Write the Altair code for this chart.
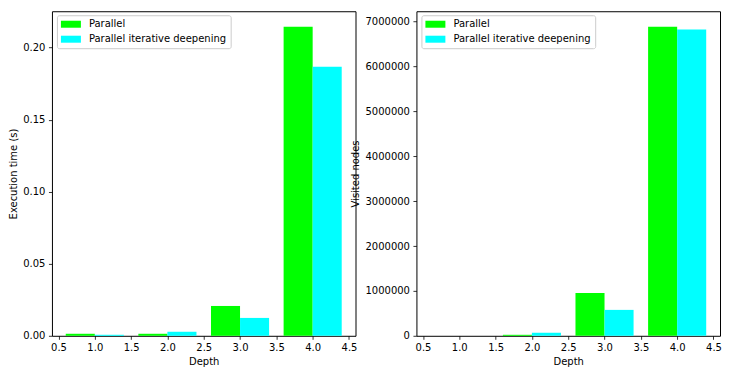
import altair as alt
import pandas as pd

depths = [1, 2, 3, 4]
series_names = ["Parallel", "Parallel iterative deepening"]
series_colors = ["#00ff00", "#00ffff"]
time_parallel = [0.0014, 0.0014, 0.0207, 0.2145]
time_iterative = [0.0007, 0.0028, 0.0124, 0.1867]
nodes_parallel = [500, 22000, 955000, 6885000]
nodes_iterative = [300, 68000, 577000, 6825000]
x_ticks = [0.5, 1.0, 1.5, 2.0, 2.5, 3.0, 3.5, 4.0, 4.5]
time_ticks = [0.0, 0.05, 0.10, 0.15, 0.20]
node_ticks = [0, 1000000, 2000000, 3000000, 4000000, 5000000, 6000000, 7000000]

bar_width = 0.4


def frame(a, b):
    rows = []
    for d, v in zip(depths, a):
        rows.append({"depth": d, "series": series_names[0], "value": v,
                     "x0": d - bar_width, "x1": d})
    for d, v in zip(depths, b):
        rows.append({"depth": d, "series": series_names[1], "value": v,
                     "x0": d, "x1": d + bar_width})
    return pd.DataFrame(rows)


lo = depths[0] - bar_width
hi = depths[-1] + bar_width
margin = (hi - lo) * 0.05
xscale = alt.Scale(domain=[lo - margin, hi + margin], nice=False, zero=False)

legend = alt.Legend(
    title=None, orient="none", legendX=5, legendY=4,
    symbolType="M-1,-0.7L3,-0.7L3,0.7L-1,0.7Z", symbolSize=100,
    symbolStrokeWidth=0, labelOffset=18, padding=4, rowPadding=5,
    strokeColor="#cccccc", fillColor="white", cornerRadius=2,
    labelFontSize=10, labelColor="black", labelFont="DejaVu Sans",
    symbolOpacity=1,
)


def panel(df, ytitle, ticks, fmt):
    ymax = df["value"].max() * 1.05
    return alt.Chart(df).mark_rect(opacity=1).encode(
        x=alt.X("x0:Q", scale=xscale,
                axis=alt.Axis(title="Depth", values=x_ticks, format=".1f")),
        x2="x1:Q",
        y=alt.Y("value:Q", scale=alt.Scale(domain=[0, ymax], nice=False),
                axis=alt.Axis(title=ytitle, values=ticks, format=fmt)),
        y2=alt.datum(0),
        color=alt.Color("series:N",
                        scale=alt.Scale(domain=series_names, range=series_colors),
                        legend=legend),
    ).properties(width=304, height=325)


left = panel(frame(time_parallel, time_iterative), "Execution time (s)", time_ticks, ".2f")
right = panel(frame(nodes_parallel, nodes_iterative), "Visited nodes", node_ticks, "d")

chart = alt.hconcat(left, right, spacing=61, bounds="flush").resolve_legend(
    color="independent"
).properties(
    padding={"left": 0, "top": 2, "right": 0, "bottom": 0}
).configure_view(
    stroke="black", strokeWidth=1
).configure_axis(
    grid=False, domain=False, tickColor="black", tickSize=3.5, tickWidth=0.8,
    labelPadding=3.5, labelColor="black", titleColor="black",
    labelFont="DejaVu Sans", titleFont="DejaVu Sans", labelFontSize=10,
    titleFontSize=10, titleFontWeight="normal", titlePadding=4,
)

chart.save("out.html", embed_options={"renderer": "svg", "actions": False})
